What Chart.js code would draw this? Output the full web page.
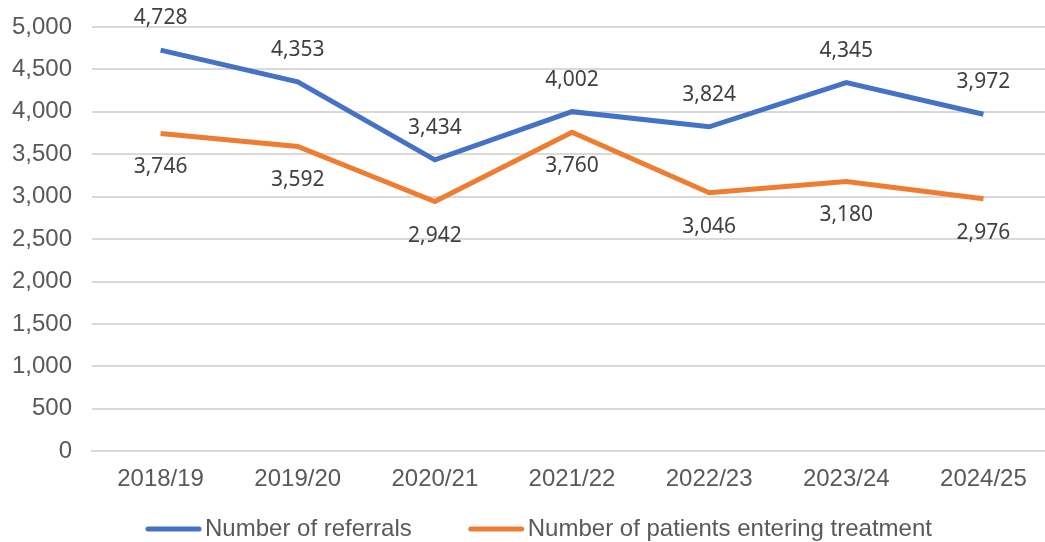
<!DOCTYPE html>
<html>
<head>
<meta charset="utf-8">
<script src="https://cdn.jsdelivr.net/npm/chart.js@4.4.1/dist/chart.umd.min.js"></script>
<style>
  html, body { margin: 0; padding: 0; background: #fff; }
  #wrap { width: 1045px; height: 542px; overflow: hidden; }
</style>
</head>
<body>
<div id="wrap"><canvas id="myChart" width="1052" height="542"></canvas></div>
<script>
const years = ['2018/19', '2019/20', '2020/21', '2021/22', '2022/23', '2023/24', '2024/25'];
const referrals = [4728, 4353, 3434, 4002, 3824, 4345, 3972];
const enteringTreatment = [3746, 3592, 2942, 3760, 3046, 3180, 2976];

const BLUE = '#4472C4';
const ORANGE = '#ED7D31';
const AXIS_FONT = '"Liberation Sans", Arial, sans-serif';

// value labels: referrals above the line, treatment below
const valueLabels = {
  id: 'valueLabels',
  afterDatasetsDraw(chart) {
    const ctx = chart.ctx;
    ctx.save();
    ctx.font = '21px "Noto Sans"';
    ctx.fillStyle = '#404040';
    ctx.textAlign = 'center';
    ctx.textBaseline = 'middle';
    chart.data.datasets.forEach((ds, i) => {
      const meta = chart.getDatasetMeta(i);
      const off = i === 0 ? -32 : 34;
      meta.data.forEach((pt, j) => {
        ctx.fillText(ds.data[j].toLocaleString('en-US'), pt.x, pt.y + off);
      });
    });
    ctx.restore();
  }
};

// legend drawn by hand so the gaps match the original
const bottomLegend = {
  id: 'bottomLegend',
  afterDraw(chart) {
    const ctx = chart.ctx;
    ctx.save();
    ctx.font = '24px ' + AXIS_FONT;
    ctx.textBaseline = 'middle';
    const lineLen = 55, textGap = 4, itemGap = 57;
    const items = chart.data.datasets.map(ds => ({
      text: ds.label, color: ds.borderColor, w: ctx.measureText(ds.label).width
    }));
    let total = 0;
    items.forEach((it, i) => { total += lineLen + textGap + it.w + (i ? itemGap : 0); });
    let x = 539 - total / 2;
    const y = 529;
    items.forEach((it) => {
      ctx.strokeStyle = it.color;
      ctx.lineWidth = 5;
      ctx.lineCap = 'round';
      ctx.beginPath();
      ctx.moveTo(x + 2, y);
      ctx.lineTo(x + lineLen - 2, y);
      ctx.stroke();
      ctx.fillStyle = '#595959';
      ctx.fillText(it.text, x + lineLen + textGap, y);
      x += lineLen + textGap + it.w + itemGap;
    });
    ctx.restore();
  }
};

const ctx = document.getElementById('myChart').getContext('2d');

const config = {
  type: 'line',
  data: {
    labels: years,
    datasets: [
      {
        label: 'Number of referrals',
        data: referrals,
        borderColor: BLUE,
        backgroundColor: BLUE,
        borderWidth: 5,
        pointRadius: 0,
        tension: 0
      },
      {
        label: 'Number of patients entering treatment',
        data: enteringTreatment,
        borderColor: ORANGE,
        backgroundColor: ORANGE,
        borderWidth: 5,
        pointRadius: 0,
        tension: 0
      }
    ]
  },
  options: {
    responsive: false,
    animation: false,
    layout: { padding: { top: 27, left: 8, right: 0, bottom: 34 } },
    plugins: {
      tooltip: { enabled: false },
      legend: { display: false }
    },
    scales: {
      x: {
        offset: true,
        grid: { display: false, drawTicks: false },
        border: { display: true, color: '#d9d9d9', width: 2 },
        ticks: {
          padding: 14,
          color: '#595959',
          font: { family: AXIS_FONT, size: 24 }
        }
      },
      y: {
        min: 0,
        max: 5000,
        afterFit(scale) {
          scale.width = 84;
          scale.paddingTop = 0;
          scale.paddingBottom = 0;
        },
        grid: { color: '#d9d9d9', lineWidth: 2, drawTicks: false },
        border: { display: false },
        ticks: {
          stepSize: 500,
          padding: 20,
          color: '#595959',
          font: { family: AXIS_FONT, size: 24 },
          callback: (v) => v.toLocaleString('en-US')
        }
      }
    }
  },
  plugins: [valueLabels, bottomLegend]
};

const myChart = new Chart(ctx, config);
</script>
</body>
</html>
